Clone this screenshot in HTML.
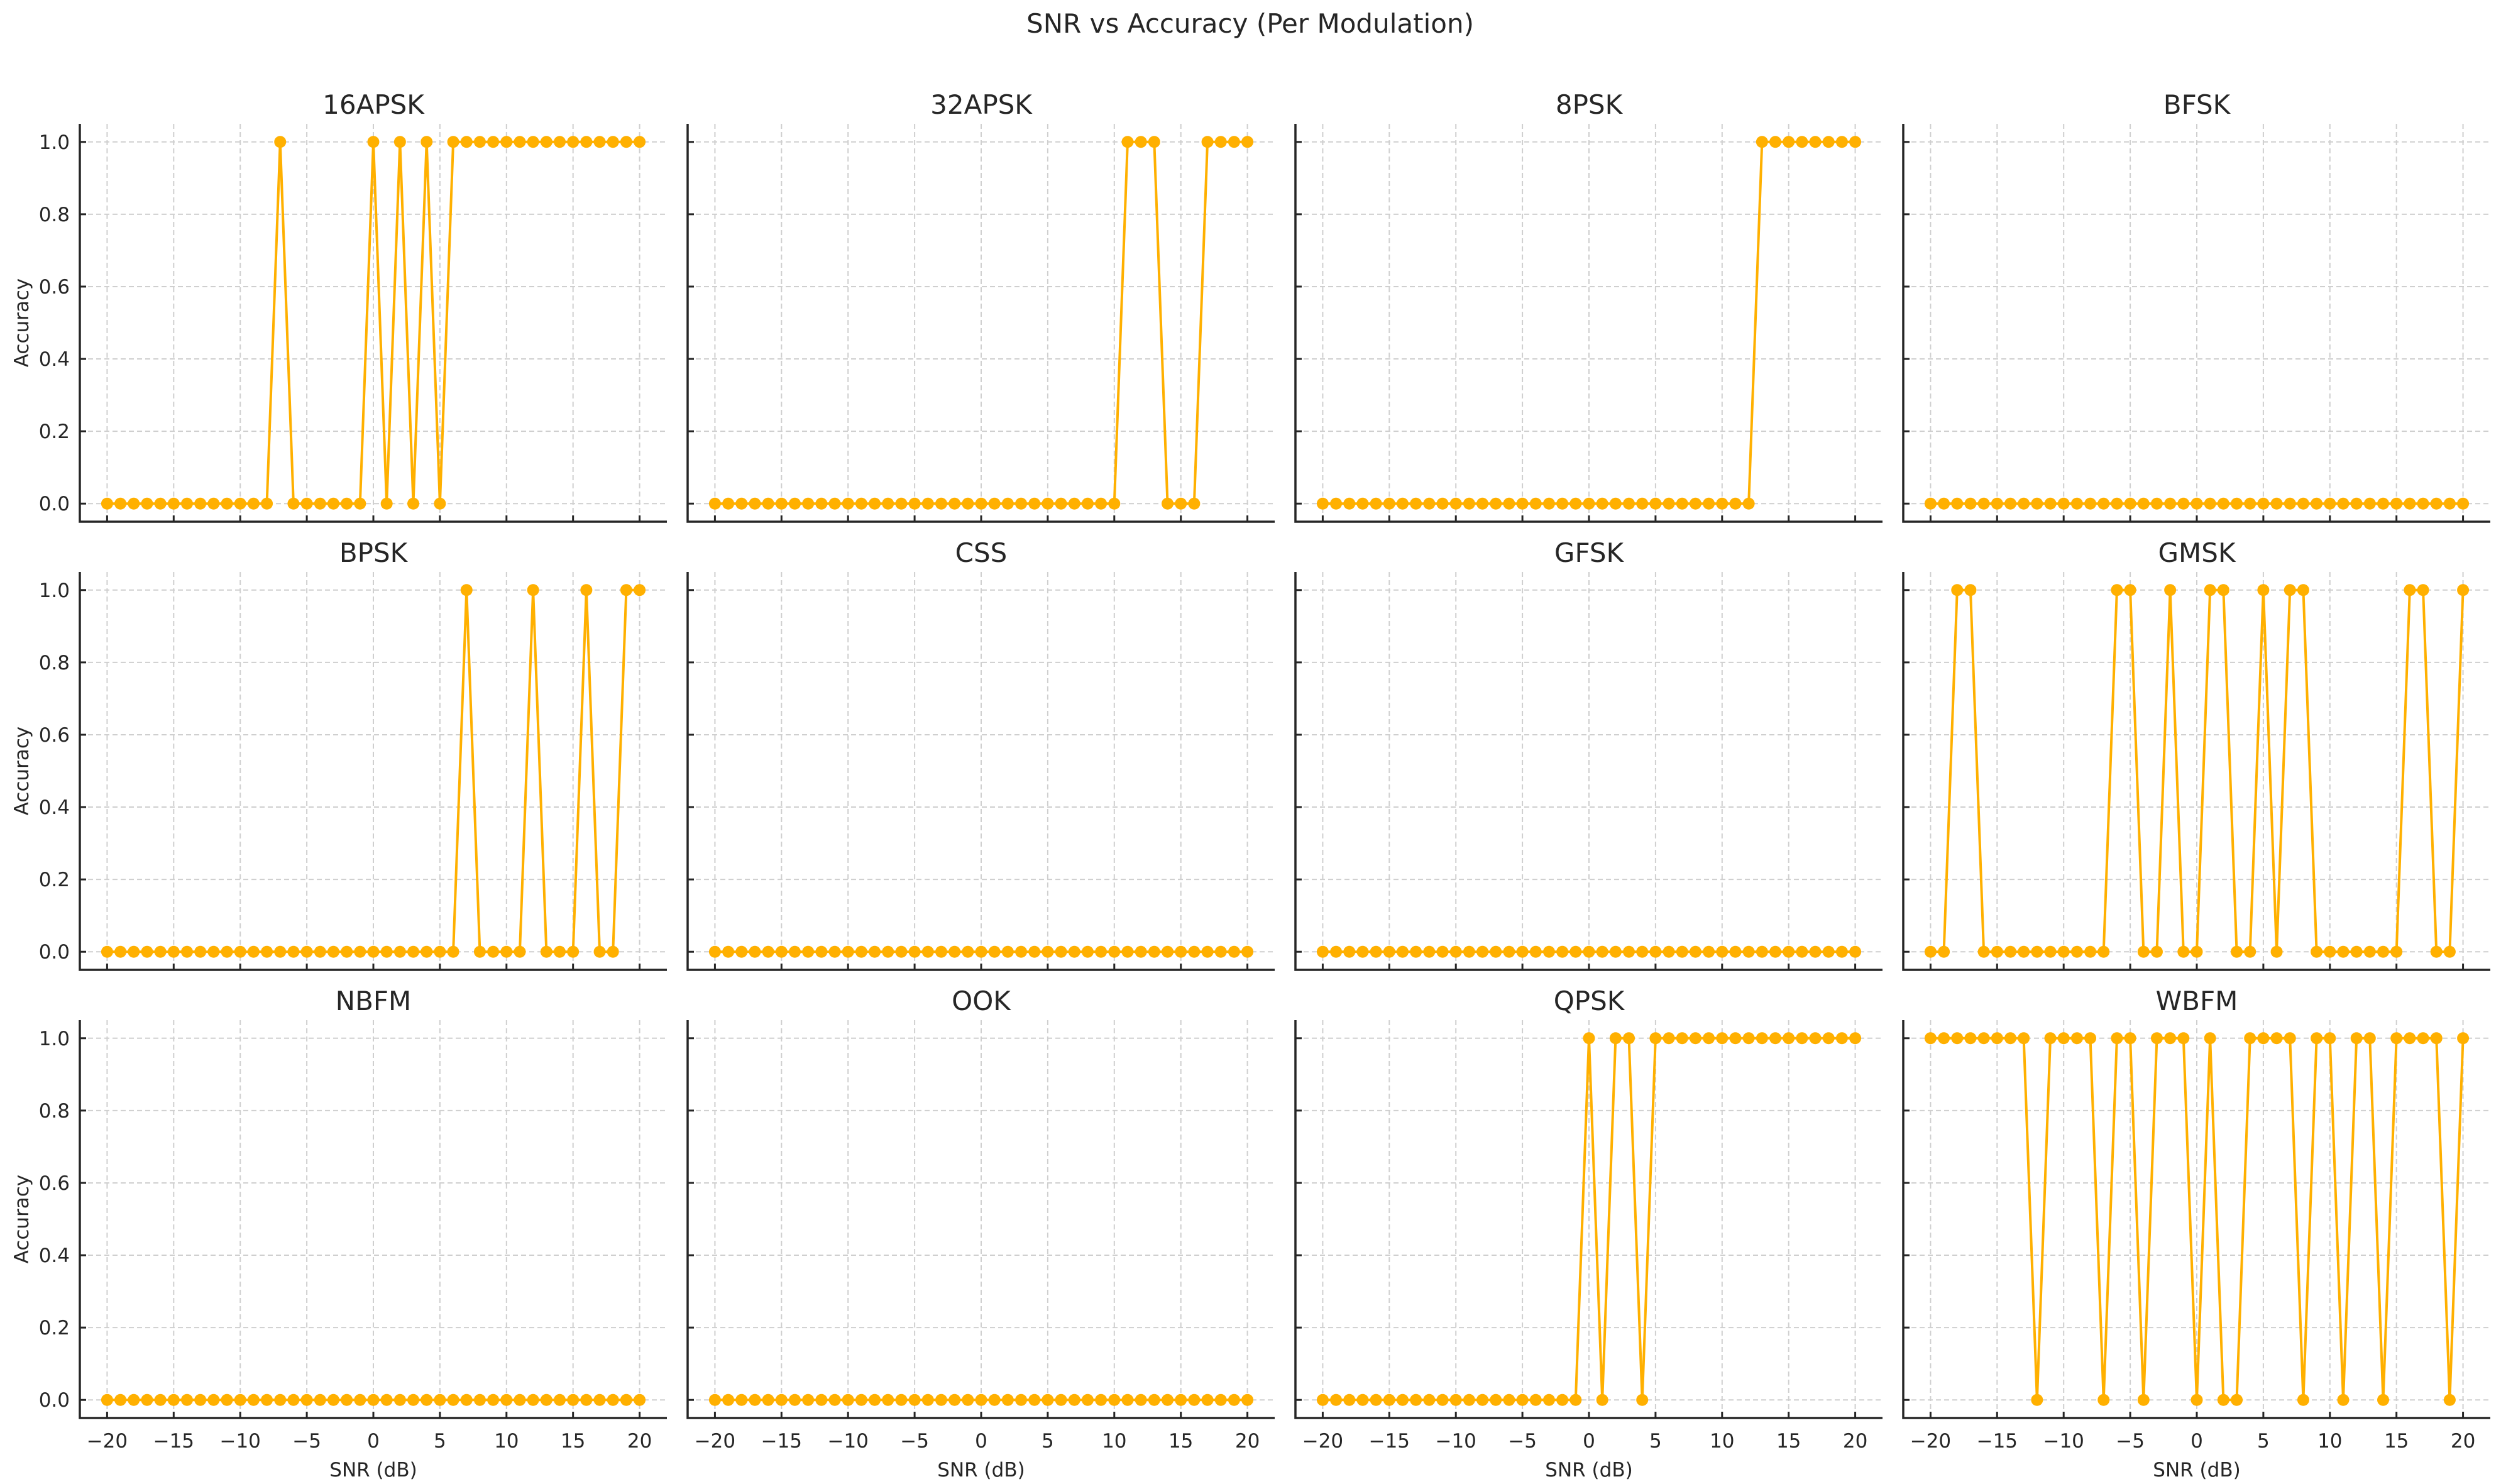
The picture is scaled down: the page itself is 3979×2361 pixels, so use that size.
<!DOCTYPE html>
<html><head><meta charset="utf-8"><style>
html,body{margin:0;padding:0;background:#fff}
svg{display:block;font-family:"DejaVu Sans","Liberation Sans",sans-serif}
</style></head><body>
<svg id="fig" width="3979" height="2361" viewBox="0 0 3979 2361" xmlns="http://www.w3.org/2000/svg">
<rect width="3979" height="2361" fill="#fff"/>
<text x="1989" y="52" text-anchor="middle" font-size="42" fill="#262626">SNR vs Accuracy (Per Modulation)</text>
</svg>
<script>
const snr = [];
for (let v = -20; v <= 20; v++) snr.push(v);
const titles = ["16APSK","32APSK","8PSK","BFSK","BPSK","CSS","GFSK","GMSK","NBFM","OOK","QPSK","WBFM"];
const ones16APSK = [-7,0,2,4,6,7,8,9,10,11,12,13,14,15,16,17,18,19,20];
const ones32APSK = [11,12,13,17,18,19,20];
const ones8PSK = [13,14,15,16,17,18,19,20];
const onesBFSK = [];
const onesBPSK = [7,12,16,19,20];
const onesCSS = [];
const onesGFSK = [];
const onesGMSK = [-18,-17,-6,-5,-2,1,2,5,7,8,16,17,20];
const onesNBFM = [];
const onesOOK = [];
const onesQPSK = [0,2,3,5,6,7,8,9,10,11,12,13,14,15,16,17,18,19,20];
const zerosWBFM = [-12,-7,-4,0,2,3,8,11,14,19];
const xTicks = [-20,-15,-10,-5,0,5,10,15,20];
const yTicks = [0,0.2,0.4,0.6,0.8,1.0];

function fromOnes(ones){return snr.map(v=>ones.includes(v)?1:0);}
const series = [
  fromOnes(ones16APSK),fromOnes(ones32APSK),fromOnes(ones8PSK),fromOnes(onesBFSK),
  fromOnes(onesBPSK),fromOnes(onesCSS),fromOnes(onesGFSK),fromOnes(onesGMSK),
  fromOnes(onesNBFM),fromOnes(onesOOK),fromOnes(onesQPSK),
  snr.map(v=>zerosWBFM.includes(v)?0:1)
];

const NS="http://www.w3.org/2000/svg";
const svg=document.getElementById('fig');
function mk(tag,attrs,parent){const e=document.createElementNS(NS,tag);for(const k in attrs)e.setAttribute(k,attrs[k]);(parent||svg).appendChild(e);return e;}

const colL=[127,1094,2061,3028], W=934;
const rowT=[197,910,1623], H=633;
const X0=-22.05,X1=22.05,Y0=-0.05,Y1=1.05;

titles.forEach((t,i)=>{
  const r=Math.floor(i/4),c=i%4;
  const L=colL[c],T=rowT[r],R=L+W,B=T+H;
  const xs=v=>L+(v-X0)/(X1-X0)*W;
  const ys=v=>B-(v-Y0)/(Y1-Y0)*H;
  const g=mk('g',{});
  
  
  xTicks.forEach(v=>{
    const l=mk('line',{x1:xs(v),x2:xs(v),y1:T,y2:B,stroke:'#cfcfcf','stroke-width':2,'stroke-dasharray':'8,5'},g);
    
    
    const tk=mk('line',{x1:xs(v),x2:xs(v),y1:B,y2:B-10,stroke:'#262626','stroke-width':3},g);
    
    
    if(r===2){
      const tx=mk('text',{x:xs(v),y:B+47,'text-anchor':'middle','font-size':31,fill:'#262626'},g);
      tx.textContent=(v<0?'\u2212'+(-v):''+v);
      
      
    }
  });
  yTicks.forEach(v=>{
    const l=mk('line',{x1:L,x2:R,y1:ys(v),y2:ys(v),stroke:'#cfcfcf','stroke-width':2,'stroke-dasharray':'8,5'},g);
    
    
    const tk=mk('line',{x1:L,x2:L+10,y1:ys(v),y2:ys(v),stroke:'#262626','stroke-width':3},g);
    
    
    if(c===0){
      const tx=mk('text',{x:L-16,y:ys(v)+11,'text-anchor':'end','font-size':31,fill:'#262626'},g);
      tx.textContent=v.toFixed(1);
      
      
    }
  });
  const sp=mk('path',{d:`M${L},${T} L${L},${B} L${R},${B}`,fill:'none',stroke:'#262626','stroke-width':3.5},g);
  
  
  const ttl=mk('text',{x:L+W/2,y:T-16,'text-anchor':'middle','font-size':42,fill:'#262626'},g);
  ttl.textContent=t;
  
  
  if(c===0){
    const yl=mk('text',{x:0,y:0,'text-anchor':'middle','font-size':31,fill:'#262626',transform:`translate(45,${(T+B)/2}) rotate(-90)`},g);
    yl.textContent='Accuracy';
    
    
  }
  if(r===2){
    const xl=mk('text',{x:L+W/2,y:B+93,'text-anchor':'middle','font-size':31,fill:'#262626'},g);
    xl.textContent='SNR (dB)';
    
    
  }
  const vals=series[i];
  const pts=snr.map((v,k)=>xs(v)+','+ys(vals[k])).join(' ');
  const pl=mk('polyline',{points:pts,fill:'none',stroke:'#ffb000','stroke-width':4,'stroke-linejoin':'round'},g);
  
  
  snr.forEach((v,k)=>{
    const m=mk('circle',{cx:xs(v),cy:ys(vals[k]),r:9.5,fill:'#ffb000'},g);
    
    
  });
});
</script>
</body></html>
